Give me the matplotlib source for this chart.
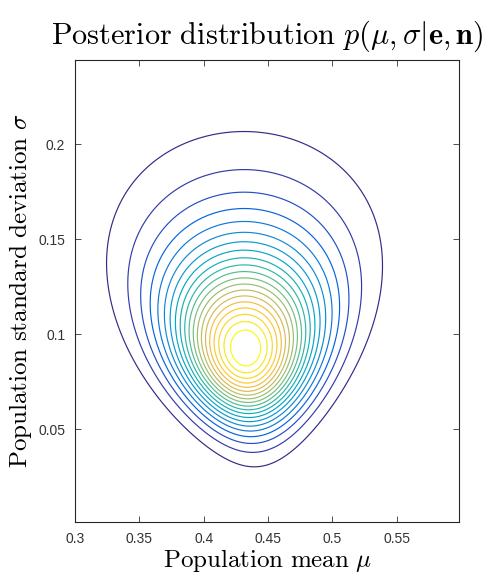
import matplotlib
matplotlib.use("Agg")
import matplotlib.pyplot as plt
import numpy as np
from matplotlib.colors import LinearSegmentedColormap

plt.rcParams['mathtext.fontset'] = 'cm'

# observed successes and trials per group
e = [13, 13, 22, 20, 26, 31, 32, 39, 47]
n = [56, 45, 62, 50, 56, 67, 62, 73, 78]
# half-normal prior scale on sigma
sigma_prior_scale = 0.2

x_ticks = [0.3, 0.35, 0.4, 0.45, 0.5, 0.55]
x_tick_labels = ['0.3', '0.35', '0.4', '0.45', '0.5', '0.55']
y_ticks = [0.05, 0.1, 0.15, 0.2]
y_tick_labels = ['0.05', '0.1', '0.15', '0.2']
n_levels = 20

parula_anchors = [
    (0.2081, 0.1663, 0.5292),
    (0.1959, 0.2645, 0.7279),
    (0.0117, 0.3875, 0.8820),
    (0.0779, 0.5040, 0.8384),
    (0.0343, 0.5966, 0.8199),
    (0.0267, 0.6642, 0.7607),
    (0.1453, 0.7098, 0.6646),
    (0.3482, 0.7424, 0.5473),
    (0.5709, 0.7485, 0.4494),
    (0.7525, 0.7384, 0.3768),
    (0.9139, 0.7258, 0.3063),
    (0.9955, 0.7861, 0.1967),
    (0.9626, 0.8705, 0.1309),
    (0.9763, 0.9831, 0.0538),
]
parula = LinearSegmentedColormap.from_list('parula', parula_anchors)

mu = np.linspace(0.3, 0.6, 301)
sigma = np.linspace(0.002, 0.246, 245)
theta = np.linspace(0.0005, 0.9995, 600)
d_theta = theta[1] - theta[0]

e_arr = np.asarray(e, dtype=float)
n_arr = np.asarray(n, dtype=float)
ll = np.outer(np.log(theta), e_arr) + np.outer(np.log(1 - theta), n_arr - e_arr)
ll -= ll.max(axis=0)
lik = np.exp(ll)

log_post = np.zeros((len(sigma), len(mu)))
for i, s in enumerate(sigma):
    dens = np.exp(-(theta[None, :] - mu[:, None]) ** 2 / (2 * s ** 2)) / (s * np.sqrt(2 * np.pi))
    marg = dens @ lik * d_theta
    log_post[i] = np.log(marg + 1e-300).sum(axis=1) - s ** 2 / (2 * sigma_prior_scale ** 2)
post = np.exp(log_post - log_post.max())

levels = np.arange(1, n_levels + 1) / (n_levels + 1)

fig = plt.figure(figsize=(4.88, 5.74), dpi=100)
ax = fig.add_axes([0.1537, 0.0906, 0.7869, 0.8049])
M, S = np.meshgrid(mu, sigma)
ax.contour(M, S, post, levels=levels, cmap=parula, linewidths=0.85)

ax.set_xlim(0.3, 0.5985)
ax.set_ylim(0.001, 0.2445)
ax.set_xticks(x_ticks)
ax.set_xticklabels(x_tick_labels)
ax.set_yticks(y_ticks)
ax.set_yticklabels(y_tick_labels)
ax.tick_params(direction='in', top=True, right=True, length=4, width=0.6,
               labelsize=10, colors='#333333', pad=7)
for lab in ax.get_xticklabels() + ax.get_yticklabels():
    lab.set_family('Liberation Sans')
for sp in ax.spines.values():
    sp.set_color('#262626')
    sp.set_linewidth(0.8)

ax.set_title(r'$\mathrm{Posterior\ distribution}\ p(\mu,\sigma|\mathbf{e},\mathbf{n})$',
             fontsize=21.8, pad=12)
ax.set_xlabel(r'$\mathrm{Population\ mean}\ \mu$', fontsize=18, labelpad=1)
ax.set_ylabel(r'$\mathrm{Population\ standard\ deviation}\ \sigma$', fontsize=18, labelpad=3)

fig.savefig('out.png', dpi=100)
